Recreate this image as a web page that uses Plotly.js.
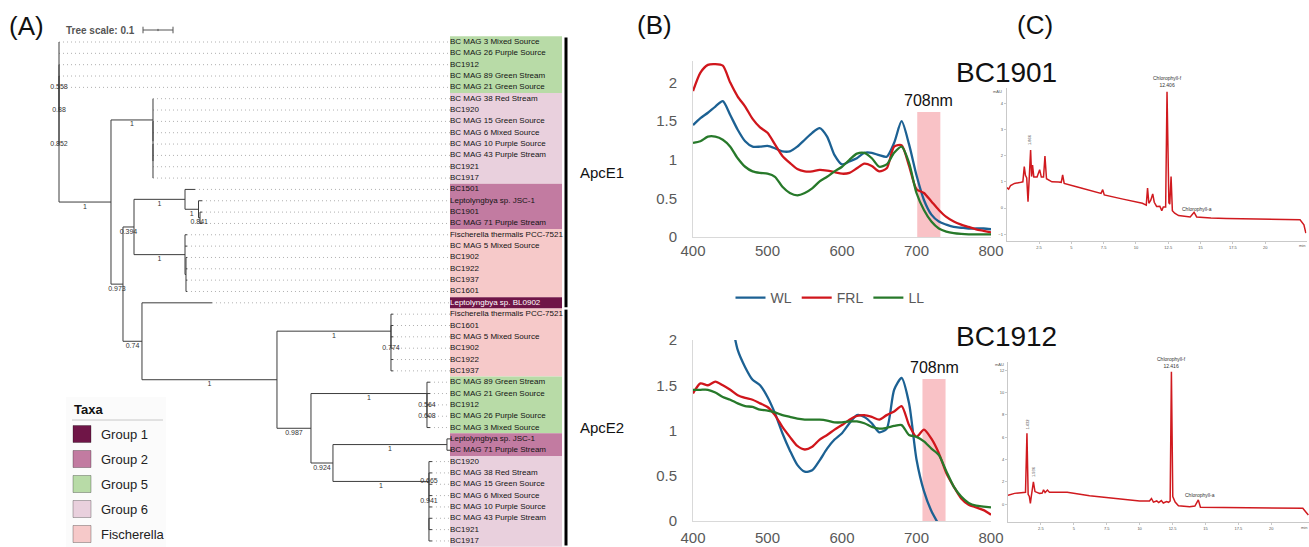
<!DOCTYPE html>
<html><head><meta charset="utf-8">
<script src="https://cdn.plot.ly/plotly-3.0.1.min.js"></script>
<style>html,body{margin:0;padding:0;background:#fff}#chart{width:1309px;height:547px}</style>
</head><body><div id="chart"></div>
<script>
// ================= DATA =================
// ---- Panel A: ApcE phylogeny ----
const leafNames = [
 'BC MAG 3 Mixed Source','BC MAG 26 Purple Source','BC1912','BC MAG 89 Green Stream','BC MAG 21 Green Source',
 'BC MAG 38 Red Stream','BC1920','BC MAG 15 Green Source','BC MAG 6 Mixed Source','BC MAG 10 Purple Source','BC MAG 43 Purple Stream','BC1921','BC1917',
 'BC1501','Leptolyngbya sp. JSC-1','BC1901','BC MAG 71 Purple Stream',
 'Fischerella thermalis PCC-7521','BC MAG 5 Mixed Source','BC1902','BC1922','BC1937','BC1601',
 'Leptolyngbya sp. BL0902',
 'Fischerella thermalis PCC-7521','BC1601','BC MAG 5 Mixed Source','BC1902','BC1922','BC1937',
 'BC MAG 89 Green Stream','BC MAG 21 Green Source','BC1912','BC MAG 26 Purple Source','BC MAG 3 Mixed Source',
 'Leptolyngbya sp. JSC-1','BC MAG 71 Purple Stream',
 'BC1920','BC MAG 38 Red Stream','BC MAG 15 Green Source','BC MAG 6 Mixed Source','BC MAG 10 Purple Source','BC MAG 43 Purple Stream','BC1921','BC1917'];
const leafGroups = [
 'Group 5','Group 5','Group 5','Group 5','Group 5',
 'Group 6','Group 6','Group 6','Group 6','Group 6','Group 6','Group 6','Group 6',
 'Group 2','Group 2','Group 2','Group 2',
 'Fischerella','Fischerella','Fischerella','Fischerella','Fischerella','Fischerella',
 'Group 1',
 'Fischerella','Fischerella','Fischerella','Fischerella','Fischerella','Fischerella',
 'Group 5','Group 5','Group 5','Group 5','Group 5',
 'Group 2','Group 2',
 'Group 6','Group 6','Group 6','Group 6','Group 6','Group 6','Group 6','Group 6'];
const taxaGroups = ['Group 1','Group 2','Group 5','Group 6','Fischerella'];
const taxaColors = ['#6f1547','#c27ba1','#b8dba7','#e9d0dd','#f6c9c9'];
const cladeNames = ['ApcE1','ApcE2'];
const cladeFirstLeaf = [1, 25];
const cladeLastLeaf = [24, 45];
const treeScale = 0.1;
// Newick (leaves given as L<order>), with support values and branch lengths
const treeNewick =
 "(L1:0,L2:0,(L3:0,(L4:0,(L5:0," +
   "((L6:0,L7:0,(L8:0,L9:0,(L10:0,L11:0,L12:0,L13:0):0):0)1:0.14," +
    "(((L14:0.0333,(L15:0.0117,(L16:0.0067,L17:0.0067)0.841:0.005)1:0.045)1:0.17," +
      "(L18:0.0067,L19:0.0067,(L20:0.0033,L21:0.0033,L22:0.0033,L23:0.0033):0.0033)1:0.17)0.394:0.0367," +
     "(L24:0.2333," +
      "((L25:0.0067,(L26:0.0067,L27:0.0067,L28:0.0067,L29:0.0067,L30:0.0067)0.774:0)1:0.38," +
       "((L31:0.01,(L32:0.01,(L33:0.01,L34:0.01,L35:0.01)0.608:0)0.564:0)1:0.3867," +
        "((L36:0.0167,L37:0.0167)1:0.38," +
         "(((L38:0.01,(L39:0.01,L40:0.01,L41:0.01,L42:0.01,(L43:0.01,L44:0.01,L45:0.01):0)0.941:0)0.665:0))1:0.32)0.924:0.0733)0.987:0.1133)1:0.45)0.74:0.0633)0.973:0.04)1:0.1733" +
 ")0.852:0)0.88:0)0.558:0);";

// ---- Panel B: absorption spectra ----
const wavelengths = [400,410,420,430,440,450,460,470,480,490,500,510,520,530,540,550,560,570,580,590,600,610,620,630,640,650,660,670,680,690,700,710,720,730,740,750,760,770,780,790,800];
const seriesNames = ['WL','FRL','LL'];
const seriesColors = ['#1c6193','#d0161c','#27792a'];
const bc1901WL  = [1.45,1.54,1.61,1.69,1.76,1.58,1.39,1.24,1.17,1.17,1.18,1.15,1.11,1.11,1.17,1.26,1.35,1.41,1.30,1.06,0.94,0.98,1.02,1.09,1.09,1.06,1.04,1.22,1.50,1.20,0.80,0.48,0.29,0.20,0.16,0.13,0.12,0.11,0.11,0.11,0.10];
const bc1901FRL = [1.89,2.13,2.23,2.24,2.22,2.00,1.82,1.69,1.53,1.42,1.35,1.20,1.05,0.96,0.88,0.85,0.85,0.87,0.86,0.84,0.82,0.83,0.89,0.95,0.92,0.85,0.89,1.17,1.19,0.92,0.62,0.57,0.46,0.35,0.26,0.20,0.16,0.13,0.10,0.08,0.06];
const bc1901LL  = [1.22,1.24,1.30,1.30,1.26,1.17,1.02,0.91,0.85,0.83,0.82,0.78,0.65,0.57,0.54,0.57,0.63,0.72,0.78,0.85,0.91,1.00,1.08,1.09,1.02,0.91,0.94,1.09,1.17,0.96,0.57,0.35,0.20,0.11,0.07,0.05,0.04,0.035,0.035,0.035,0.035];
const bc1912WL  = [null,null,null,null,null,2.30,1.89,1.70,1.56,1.50,1.37,1.19,0.97,0.78,0.62,0.545,0.56,0.67,0.80,0.90,0.97,1.08,1.17,1.15,1.08,0.98,1.02,1.45,1.58,1.30,0.68,0.33,0.11,-0.04,null,null,null,null,null,null,null];
const bc1912FRL = [1.41,1.52,1.50,1.54,1.50,1.45,1.39,1.36,1.34,1.30,1.26,1.17,1.04,0.93,0.83,0.79,0.82,0.90,0.95,1.01,1.06,1.12,1.16,1.17,1.15,1.12,1.17,1.21,1.27,1.06,0.93,1.01,0.91,0.75,0.53,0.38,0.25,0.18,0.15,0.12,0.07];
const bc1912LL  = [1.45,1.45,1.45,1.42,1.37,1.34,1.30,1.27,1.26,1.23,1.22,1.20,1.17,1.15,1.13,1.12,1.12,1.12,1.11,1.09,1.09,1.10,1.10,1.08,1.04,1.02,1.03,1.05,1.06,0.95,0.93,0.88,0.80,0.73,0.55,0.38,0.27,0.20,0.17,0.16,0.15];
const bandNm1901 = [701, 732], bandTop1901 = 1.62;
const bandNm1912 = [708, 739], bandTop1912 = 1.57;
const bandLabel = '708nm';

// ---- Panel C: HPLC chromatograms ----
const hplc1901Time = [0,0.15,0.3,0.6,1.0,1.25,1.36,1.45,1.55,1.65,1.75,1.85,1.93,2.0,2.1,2.35,2.55,2.68,2.85,2.96,3.08,3.5,4.0,4.22,4.33,4.45,5.4,6.4,7.3,7.43,7.55,9.0,10.5,10.8,10.9,11.0,11.15,11.3,11.42,11.6,11.85,12.0,12.12,12.3,12.406,12.55,12.62,12.72,12.82,13.0,13.3,14.2,14.5,14.7,15.5,15.8,17.0,22.0,22.7,23.0,23.15];
const hplc1901mAU = [0.78,0.72,0.86,0.94,0.97,1.0,1.58,1.25,1.15,0.24,1.2,2.21,1.2,1.64,1.18,1.18,1.46,1.18,1.18,1.98,1.12,1.0,0.99,0.98,1.26,0.94,0.81,0.68,0.56,0.7,0.5,0.34,0.18,0.11,0.76,0.18,0.3,0.54,0.22,0.06,0.07,-0.1,0.04,0.04,4.44,0.2,0.15,1.2,-0.1,-0.2,-0.29,-0.34,-0.16,-0.34,-0.35,-0.38,-0.4,-0.42,-0.45,-0.64,-0.96];
const hplc1912Time = [0,0.2,0.5,1.0,1.33,1.44,1.53,1.62,1.7,1.78,1.93,2.05,2.4,2.6,2.7,2.82,3.0,3.15,4.5,6.2,8.8,10.0,10.75,10.9,11.05,11.3,11.45,11.65,11.8,12.05,12.2,12.32,12.416,12.52,12.7,12.95,13.8,14.2,14.46,14.62,16.4,22.4,22.6,22.82];
const hplc1912mAU = [0.8,0.9,0.98,1.03,1.07,6.35,0.9,0.7,0.09,0.8,2.0,1.14,0.98,1.0,1.3,1.05,1.28,1.07,1.07,0.77,0.47,0.3,0.29,0.52,0.2,0.3,0.15,0.33,0.12,0.25,0.18,0.3,11.87,0.7,0.2,-0.13,-0.22,-0.15,0.4,-0.26,-0.29,-0.35,-0.65,-0.95];

// ================= BUILD =================
const FONT = 'Liberation Sans, Arial, Helvetica, sans-serif';
const W = 1309, H = 547;
const px = v => v / W, py = v => 1 - v / H;

// --- parse tree ---
function parseNewick(s){
  let i = 0;
  const stop = ':,);';
  function node(){
    const n = {children:[], support:'', length:0, leaf:null};
    if (s[i] === '('){
      i++; n.children.push(node());
      while (s[i] === ','){ i++; n.children.push(node()); }
      i++;
      let lab = ''; while (i < s.length && !stop.includes(s[i])) lab += s[i++];
      n.support = lab;
    } else {
      let lab = ''; while (i < s.length && !stop.includes(s[i])) lab += s[i++];
      n.leaf = parseInt(lab.slice(1), 10);
    }
    if (s[i] === ':'){ i++; let num=''; while (i < s.length && !',);'.includes(s[i])) num += s[i++]; n.length = parseFloat(num); }
    return n;
  }
  return node();
}
const root = parseNewick(treeNewick);
function place(n, d){
  n.depth = d + n.length;
  if (n.leaf !== null) n.row = n.leaf;
  else { n.children.forEach(c => place(c, n.depth)); n.row = (n.children[0].row + n.children[n.children.length-1].row) / 2; }
}
place(root, 0);

const labelStart = 1.3033;   // where leaf labels begin (tree units)
const labelEnd = 1.6767;
const bx=[], by=[], dx=[], dy=[], sx=[], sy=[], st=[];
function collect(n, pd){
  if (pd !== null){ bx.push(pd, n.depth, null); by.push(n.row, n.row, null); }
  if (n.leaf === null){
    const f = n.children[0], l = n.children[n.children.length-1];
    bx.push(n.depth, n.depth, null); by.push(f.row, l.row, null);
    if (n.support){
      if (n.length > 0){ sx.push(pd + n.length/2); sy.push(n.row + 0.42); }
      else { sx.push(n.depth); sy.push(n.row); }
      st.push(n.support);
    }
    n.children.forEach(c => collect(c, n.depth));
  } else {
    dx.push(n.depth, labelStart, null); dy.push(n.row, n.row, null);
  }
}
collect(root, null);
const rows = leafNames.map((_, k) => k + 1);

const traces = [];
traces.push({type:'scatter', mode:'lines', x:dx, y:dy, xaxis:'x', yaxis:'y', line:{color:'#b0b0b0', width:1, dash:'1px,3px'}, hoverinfo:'skip', showlegend:false});
traces.push({type:'scatter', mode:'lines', x:bx, y:by, xaxis:'x', yaxis:'y', line:{color:'#3c3c3c', width:1}, hoverinfo:'skip', showlegend:false});
traces.push({type:'scatter', mode:'text', x:sx, y:sy, text:st, xaxis:'x', yaxis:'y', textposition:'middle center', textfont:{family:FONT, size:7, color:'#333333'}, hoverinfo:'skip', showlegend:false, cliponaxis:false});
traces.push({type:'scatter', mode:'text', x:rows.map(() => labelStart), y:rows, text:leafNames, xaxis:'x', yaxis:'y', textposition:'middle right', textfont:{family:FONT, size:8, color:leafGroups.map(g => g === 'Group 1' ? '#ffffff' : '#141414')}, hoverinfo:'skip', showlegend:false, cliponaxis:false});

const shapes = [];
const annotations = [];
// group background boxes
let runStart = 0;
for (let k = 1; k <= leafGroups.length; k++){
  if (k === leafGroups.length || leafGroups[k] !== leafGroups[runStart]){
    shapes.push({type:'rect', xref:'x', yref:'y', x0:labelStart, x1:labelEnd, y0:runStart + 0.5, y1:k + 0.5,
      fillcolor:taxaColors[taxaGroups.indexOf(leafGroups[runStart])], line:{width:0}, layer:'below'});
    runStart = k;
  }
}
// clade bars + labels
cladeNames.forEach((c, k) => {
  shapes.push({type:'line', xref:'x', yref:'y', x0:1.69, x1:1.69, y0:cladeFirstLeaf[k] - 0.4, y1:cladeLastLeaf[k] + 0.4, line:{color:'#000', width:3}});
  annotations.push({xref:'x', yref:'y', x:1.73, y:(cladeFirstLeaf[k] + cladeLastLeaf[k]) / 2, text:c, showarrow:false, xanchor:'left', yanchor:'middle', font:{family:FONT, size:15, color:'#111'}});
});
// tree scale bar
const sbx0 = 0.28, sby = py(30);
shapes.push({type:'line', xref:'x', yref:'paper', x0:sbx0, x1:sbx0 + treeScale, y0:sby, y1:sby, line:{color:'#555', width:1}});
[0, 0.5, 1].forEach(f => shapes.push({type:'line', xref:'x', yref:'paper', x0:sbx0 + f*treeScale, x1:sbx0 + f*treeScale, y0:sby - (f === 0.5 ? 0.002 : 0.006), y1:sby + (f === 0.5 ? 0.002 : 0.006), line:{color:'#555', width:1}}));
annotations.push({xref:'paper', yref:'paper', x:px(64), y:sby, text:'<b>Tree scale: 0.1</b>', showarrow:false, xanchor:'left', yanchor:'middle', font:{family:FONT, size:10, color:'#555'}});
// taxa legend
shapes.push({type:'rect', xref:'paper', yref:'paper', x0:px(66), x1:px(166), y0:py(547), y1:py(397), fillcolor:'#fbfbfb', line:{width:0}, layer:'below'});
shapes.push({type:'line', xref:'paper', yref:'paper', x0:px(72), x1:px(163), y0:py(420), y1:py(420), line:{color:'#c8c8c8', width:1}});
annotations.push({xref:'paper', yref:'paper', x:px(72), y:py(409), text:'<b>Taxa</b>', showarrow:false, xanchor:'left', yanchor:'middle', font:{family:FONT, size:13, color:'#111'}});
taxaGroups.forEach((g, k) => {
  const cy = 434 + 25*k;
  shapes.push({type:'rect', xref:'paper', yref:'paper', x0:px(73), x1:px(91), y0:py(cy + 8.5), y1:py(cy - 8.5), fillcolor:taxaColors[k], line:{color:'rgba(0,0,0,0.28)', width:1}});
  annotations.push({xref:'paper', yref:'paper', x:px(99), y:py(cy), text:g, showarrow:false, xanchor:'left', yanchor:'middle', font:{family:FONT, size:13, color:'#222'}});
});

// --- Panel B traces ---
const specTop = [bc1901WL, bc1901FRL, bc1901LL];
const specBot = [bc1912WL, bc1912FRL, bc1912LL];
specTop.forEach((v, k) => traces.push({type:'scatter', mode:'lines', x:wavelengths, y:v, xaxis:'x2', yaxis:'y2', name:seriesNames[k], legendgroup:seriesNames[k], line:{color:seriesColors[k], width:2.3, shape:'spline', smoothing:0.7}, hoverinfo:'skip'}));
specBot.forEach((v, k) => traces.push({type:'scatter', mode:'lines', x:wavelengths, y:v, xaxis:'x3', yaxis:'y3', name:seriesNames[k], legendgroup:seriesNames[k], showlegend:false, line:{color:seriesColors[k], width:2.3, shape:'spline', smoothing:0.7}, hoverinfo:'skip', connectgaps:false}));
shapes.push({type:'rect', xref:'x2', yref:'y2', x0:bandNm1901[0], x1:bandNm1901[1], y0:0, y1:bandTop1901, fillcolor:'#f9c2c6', line:{width:0}, layer:'below'});
shapes.push({type:'rect', xref:'x3', yref:'y3', x0:bandNm1912[0], x1:bandNm1912[1], y0:0, y1:bandTop1912, fillcolor:'#f9c2c6', line:{width:0}, layer:'below'});
annotations.push({xref:'x2', yref:'y2', x:(bandNm1901[0] + bandNm1901[1]) / 2, y:bandTop1901, yshift:1, text:bandLabel, showarrow:false, xanchor:'center', yanchor:'bottom', font:{family:FONT, size:16, color:'#111'}});
annotations.push({xref:'x3', yref:'y3', x:(bandNm1912[0] + bandNm1912[1]) / 2, y:bandTop1912, yshift:1, text:bandLabel, showarrow:false, xanchor:'center', yanchor:'bottom', font:{family:FONT, size:16, color:'#111'}});

// --- Panel C traces ---
traces.push({type:'scatter', mode:'lines', x:hplc1901Time, y:hplc1901mAU, xaxis:'x4', yaxis:'y4', line:{color:'#d01a1f', width:1.5}, hoverinfo:'skip', showlegend:false});
traces.push({type:'scatter', mode:'lines', x:hplc1912Time, y:hplc1912mAU, xaxis:'x5', yaxis:'y5', line:{color:'#d01a1f', width:1.5}, hoverinfo:'skip', showlegend:false});
const tiny = {family:FONT, size:5, color:'#333'};
const C = {showarrow:false, xanchor:'center', yanchor:'middle'};
annotations.push(Object.assign({}, C, {xref:'x4', yref:'y4', x:12.406, y:4.5, text:'Chlorophyll-f<br>12.406', yanchor:'bottom', font:tiny}));
annotations.push(Object.assign({}, C, {xref:'x4', yref:'y4', x:14.75, y:-0.05, text:'Chlorophyll-a', font:tiny}));
annotations.push(Object.assign({}, C, {xref:'x4', yref:'y4', x:1.82, y:2.6, text:'1.866', textangle:-90, font:{family:FONT, size:4, color:'#444'}}));
annotations.push(Object.assign({}, C, {xref:'x5', yref:'y5', x:12.416, y:11.9, text:'Chlorophyll-f<br>12.416', yanchor:'bottom', font:tiny}));
annotations.push(Object.assign({}, C, {xref:'x5', yref:'y5', x:14.6, y:0.8, text:'Chlorophyll-a', font:tiny}));
annotations.push(Object.assign({}, C, {xref:'x5', yref:'y5', x:1.5, y:7.2, text:'1.432', textangle:-90, font:{family:FONT, size:4, color:'#444'}}));
annotations.push(Object.assign({}, C, {xref:'x5', yref:'y5', x:1.98, y:2.9, text:'1.936', textangle:-90, font:{family:FONT, size:4, color:'#444'}}));
annotations.push(Object.assign({}, C, {xref:'paper', yref:'paper', x:px(997), y:py(92), text:'mAU', font:{family:FONT, size:4, color:'#555'}}));
annotations.push(Object.assign({}, C, {xref:'paper', yref:'paper', x:px(999), y:py(364), text:'mAU', font:{family:FONT, size:4, color:'#555'}}));
annotations.push(Object.assign({}, C, {xref:'paper', yref:'paper', x:px(1302), y:py(246), text:'min', font:{family:FONT, size:4, color:'#555'}}));
annotations.push(Object.assign({}, C, {xref:'paper', yref:'paper', x:px(1304), y:py(527), text:'min', font:{family:FONT, size:4, color:'#555'}}));

// --- headings ---
[['(A)',26,26],['(B)',654,25],['(C)',1035,25]].forEach(t => annotations.push(Object.assign({}, C, {xref:'paper', yref:'paper', x:px(t[1]), y:py(t[2]), text:t[0], font:{family:FONT, size:26, color:'#111'}})));
[['BC1901',1006,73],['BC1912',1006,336]].forEach(t => annotations.push(Object.assign({}, C, {xref:'paper', yref:'paper', x:px(t[1]), y:py(t[2]), text:t[0], font:{family:FONT, size:28, color:'#111'}})));

// --- axes ---
const hidden = {visible:false, fixedrange:true};
const specX = {range:[400,800], tickvals:[400,500,600,700,800], showline:true, linecolor:'#d9d9d9', linewidth:1, showgrid:false, zeroline:false, ticks:'', tickfont:{family:FONT, size:15, color:'#595959'}};
const specY = {tickvals:[0,0.5,1,1.5,2], showline:true, linecolor:'#d9d9d9', linewidth:1, showgrid:false, zeroline:false, ticks:'', tickfont:{family:FONT, size:15, color:'#595959'}, ticklabelstandoff:12};
const hpX = {showline:true, linecolor:'#c9c9c9', linewidth:1, showgrid:false, zeroline:false, ticks:'outside', ticklen:2, tickcolor:'#c9c9c9', tickvals:[2.5,5,7.5,10,12.5,15,17.5,20], ticktext:['2.5','5','7.5','10','12.5','15','17.5','20'], tickfont:{family:FONT, size:4, color:'#555'}};
const hpY = {showline:true, linecolor:'#c9c9c9', linewidth:1, showgrid:false, zeroline:false, ticks:'outside', ticklen:2, tickcolor:'#c9c9c9', tickfont:{family:FONT, size:4, color:'#555'}};

const layout = {
  width:W, height:H, margin:{l:0, r:0, t:0, b:0}, paper_bgcolor:'#fff', plot_bgcolor:'rgba(0,0,0,0)',
  font:{family:FONT},
  xaxis:Object.assign({domain:[0, 640/W], range:[-59/300, (640-59)/300]}, hidden),
  yaxis:Object.assign({domain:[0,1], range:[1 + (547-42)/11.34, 1 - 42/11.34]}, hidden),
  xaxis2:Object.assign({domain:[693/W, 991/W], anchor:'y2', ticklabelstandoff:0}, specX),
  yaxis2:Object.assign({domain:[py(237), py(61)], anchor:'x2', range:[0, 2.28]}, specY),
  xaxis3:Object.assign({domain:[693/W, 991/W], anchor:'y3', ticklabelstandoff:3}, specX),
  yaxis3:Object.assign({domain:[py(521), py(340)], anchor:'x3', range:[0, 2]}, specY),
  xaxis4:Object.assign({domain:[1006.7/W, 1306.5/W], anchor:'y4', range:[0, 23.2]}, hpX),
  yaxis4:Object.assign({domain:[py(241.3), py(87.5)], anchor:'x4', range:[-1.27, 4.6], tickvals:[-1,0,1,2,3,4]}, hpY),
  xaxis5:Object.assign({domain:[1008/W, 1], anchor:'y5', range:[0, 22.87]}, hpX),
  yaxis5:Object.assign({domain:[py(522.2), py(362.4)], anchor:'x5', range:[-1.6, 12.7], tickvals:[0,2,4,6,8,10,12]}, hpY),
  showlegend:true,
  legend:{orientation:'h', x:px(830), xanchor:'center', y:py(298), yanchor:'middle', font:{family:FONT, size:14, color:'#595959'}, bgcolor:'rgba(0,0,0,0)', itemwidth:30, tracegroupgap:0},
  shapes:shapes, annotations:annotations
};
Plotly.newPlot('chart', traces, layout, {staticPlot:true, displayModeBar:false});
</script>
</body></html>
